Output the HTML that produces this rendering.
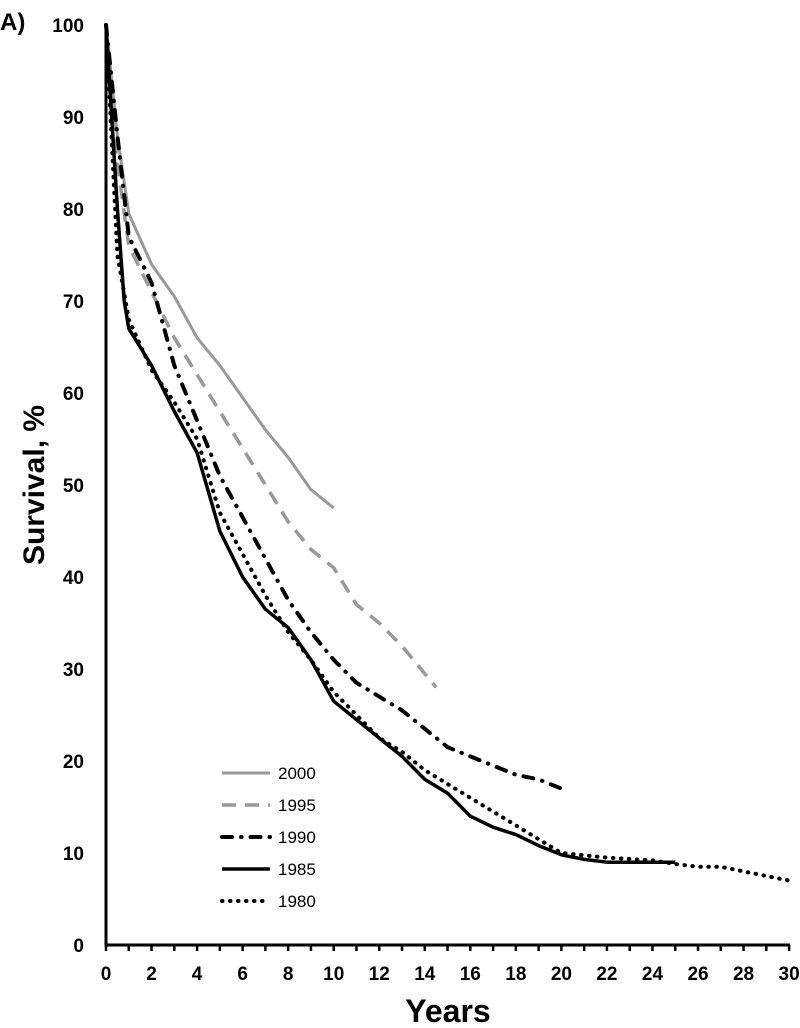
<!DOCTYPE html>
<html><head><meta charset="utf-8"><style>
body{margin:0;background:#fff;}
svg{display:block;font-family:"Liberation Sans",Arial,sans-serif;}
</style></head><body>
<svg width="800" height="1028" id="chart">
<text x="0" y="30" font-size="24" font-weight="bold">A)</text>
<text transform="translate(44,485) rotate(-90)" text-anchor="middle" font-size="30" font-weight="bold">Survival, %</text>
<text x="448" y="1022" text-anchor="middle" font-size="32" font-weight="bold">Years</text>
<g id="axes"></g><g id="series"></g><g id="legend"></g>
</svg>
<script>
const years2000=[0,0.5,1,2,3,4,5,6,7,8,9,10];
const surv2000=[100,88,79.5,74,70.5,66,63,59.5,56,53,49.5,47.5];
const years1995=[0,0.5,1,2,3,4,5,6,7,8,9,10,11,12,13,14,14.5];
const surv1995=[100,85,76,71,66,62,58,54,50,46,43,41,37,35,32.5,29.5,28];
const years1990=[0,0.5,1,2,3,4,5,6,7,8,9,10,11,12,13,14,15,16,17,18,19,20];
const surv1990=[100,88,77,72,63,57,51,46.5,42,37.5,34,31,28.5,27,25.5,23.5,21.5,20.5,19.5,18.5,18,17];
const years1985=[0,0.5,0.8,1,2,3,4,5,6,7,8,9,10,11,12,13,14,15,16,17,18,19,20,21,22,23,24,25];
const surv1985=[100,80,70,67,63,58,53.5,45,40,36.5,34.5,31,26.5,24.5,22.5,20.5,18,16.5,14,12.8,12,10.8,9.8,9.3,9,9,9,9];
const years1980=[0,0.5,1,2,3,4,5,6,7,8,9,10,11,12,13,14,15,16,17,18,19,20,22,24,25,26,27,28,29,30];
const surv1980=[100,75,68,62.5,59,55,47,42.5,38,34,31,27.5,25,22.5,21,19,17.5,16,14.5,13,11.5,10,9.5,9.2,8.8,8.5,8.5,8,7.5,7];
const yTicks=[0,10,20,30,40,50,60,70,80,90,100];
const xTicks=[0,2,4,6,8,10,12,14,16,18,20,22,24,26,28,30];
const legendLabels=["2000","1995","1990","1985","1980"];

const NS="http://www.w3.org/2000/svg";
const X=v=>106+v*22.77, Y=v=>945-v*9.2;
function mk(t,a,p){const e=document.createElementNS(NS,t);for(const k in a)e.setAttribute(k,a[k]);p.appendChild(e);return e;}
const ax=document.getElementById('axes');
let l=mk('line',{x1:X(0),y1:Y(100),x2:X(0),y2:Y(0)+1.5,stroke:'#000','stroke-width':3},ax);


l=mk('line',{x1:X(0)-1.5,y1:Y(0),x2:X(30)+1,y2:Y(0),stroke:'#000','stroke-width':3},ax);


for(let i=0;i<=30;i++){const t=mk('line',{x1:X(i),y1:Y(0),x2:X(i),y2:Y(0)+6,stroke:'#000','stroke-width':2.5},ax);

}
yTicks.forEach(v=>{const t=mk('text',{x:84,y:Y(v)+7,'text-anchor':'end','font-size':19,'font-weight':'bold'},ax);t.textContent=v;

});
xTicks.forEach(v=>{const t=mk('text',{x:X(v),y:Y(0)+35,'text-anchor':'middle','font-size':19,'font-weight':'bold'},ax);t.textContent=v;

});
const styles=[
 {xs:years2000,ys:surv2000,c:'#999',d:'',w:3,cap:'butt',n:'line-2000'},
 {xs:years1995,ys:surv1995,c:'#999',d:'14,9',w:3.5,cap:'butt',n:'line-1995'},
 {xs:years1990,ys:surv1990,c:'#000',d:'10,9,0.5,9',w:4,cap:'round',n:'line-1990'},
 {xs:years1985,ys:surv1985,c:'#000',d:'',w:3.5,cap:'butt',n:'line-1985'},
 {xs:years1980,ys:surv1980,c:'#000',d:'0.5,7.5',w:4,cap:'round',n:'line-1980'}];
const sg=document.getElementById('series');
styles.forEach(s=>{const p=s.xs.map((x,i)=>X(x).toFixed(1)+','+Y(s.ys[i]).toFixed(1)).join(' ');
const e=mk('polyline',{points:p,fill:'none',stroke:s.c,'stroke-width':s.w,'stroke-dasharray':s.d,'stroke-linejoin':'round','stroke-linecap':s.cap},sg);

});
const lg=document.getElementById('legend');
legendLabels.forEach((lab,i)=>{const y=773+i*32,s=styles[i];
const e=mk('line',{x1:222,y1:y,x2:270,y2:y,stroke:s.c,'stroke-width':s.w,'stroke-dasharray':s.d,'stroke-linecap':s.cap},lg);


const t=mk('text',{x:278,y:y+6,'font-size':17},lg);t.textContent=lab;

});
</script>
</body></html>
